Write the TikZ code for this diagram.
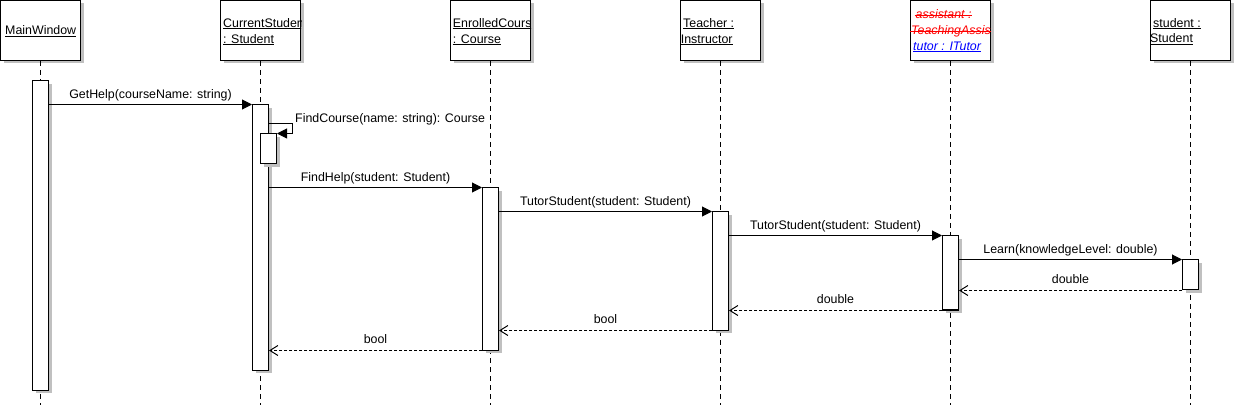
\documentclass[tikz,border=0pt]{standalone}
\usepackage{fontspec}
\setmainfont{Liberation Sans}
\usetikzlibrary{arrows.meta,shadows}
\definecolor{shd}{RGB}{192,192,192}
\tikzset{
  shadowed/.style={drop shadow={shadow xshift=3pt, shadow yshift=-3pt, fill=shd, opacity=1}},
  hdr/.style={draw, line width=1pt, fill=white, minimum width=80pt, minimum height=60pt, inner sep=0pt, shadowed},
  actbar/.style={draw, line width=1pt, fill=white, minimum width=16pt, inner sep=0pt, anchor=north, shadowed},
  life/.style={line width=1pt, dash pattern=on 5pt off 4pt},
  msg/.style={line width=1pt, -{Triangle[length=10pt,width=10pt]}},
  ret/.style={line width=1pt, dash pattern=on 3pt off 2pt, -{Straight Barb[length=8pt,width=10pt,line width=1pt]}},
  lbl/.style={inner sep=0pt, anchor=base},
  ttl/.style={inner sep=0pt, anchor=base west},
  uline/.style={line width=0.9pt},
}
\newcommand{\underl}[2][black]{\draw[uline,#1] ([yshift=-1.1pt]#2.base west) -- ([yshift=-1.1pt]#2.base east);}
\newcommand{\strikel}[2][red]{\draw[uline,#1] ([yshift=3.3pt,xshift=-1pt]#2.base west) -- ([yshift=3.3pt]#2.base east);}
\begin{document}
\begin{tikzpicture}[x=1pt, y=-1pt, font=\fontsize{12.4}{16}\selectfont]
\useasboundingbox (0,0) rectangle (1235,414);

% header boxes
\node[hdr] (mw) at (40.5,30.5) {};
\node[hdr] (cs) at (260.5,30.5) {};
\node[hdr] (ec) at (490.5,30.5) {};
\node[hdr] (te) at (720.5,30.5) {};
\node[hdr] (as) at (950.5,30.5) {};
\node[hdr] (st) at (1190.5,30.5) {};

% header texts (clipped to boxes)
\begin{scope}
\clip (mw.north west) rectangle (mw.south east);
\node[ttl] (mwt) at (5,35) {MainWindow};
\underl{mwt}
\end{scope}
\begin{scope}
\clip (cs.north west) rectangle (cs.south east);
\node[ttl] (cst1) at (223,27.3) {CurrentStuden};
\node[ttl] (cst2) at (223,43.3) {: Student};
\underl{cst1}\underl{cst2}
\end{scope}
\begin{scope}
\clip (ec.north west) rectangle (ec.south east);
\node[ttl] (ect1) at (452.7,27.3) {EnrolledCours};
\node[ttl] (ect2) at (452.7,43.3) {: Course};
\underl{ect1}\underl{ect2}
\end{scope}
\begin{scope}
\clip (te.north west) rectangle (te.south east);
\node[ttl] (tet1) at (683,27.3) {Teacher :};
\node[ttl] (tet2) at (680.7,43.3) {Instructor};
\underl{tet1}\underl{tet2}
\end{scope}
\begin{scope}
\clip (as.north west) rectangle (as.south east);
\node[ttl, text=red] (ast1) at (915.5,18.5) {\itshape assistant :};
\node[ttl, text=red] (ast2) at (911,34.5) {\itshape TeachingAssis};
\node[ttl, text=blue] (ast3) at (913,50.5) {\itshape tutor : ITutor};
\strikel{ast1}\strikel{ast2}\underl[blue]{ast3}
\end{scope}
\begin{scope}
\clip (st.north west) rectangle (st.south east);
\node[ttl] (stt1) at (1153,27.3) {student :};
\node[ttl] (stt2) at (1150,42.9) {Student};
\underl{stt1}\underl{stt2}
\end{scope}

% lifelines
\draw[life] (mw.south) -- (mw.south |- 0,405);
\draw[life] (cs.south) -- (cs.south |- 0,405);
\draw[life] (ec.south) -- (ec.south |- 0,405);
\draw[life] (te.south) -- (te.south |- 0,405);
\draw[life] (as.south) -- (as.south |- 0,405);
\draw[life] (st.south) -- (st.south |- 0,405);

% activation bars
\node[actbar, minimum height=309pt] (b1) at (40.5,80.5) {};
\node[actbar, minimum height=265pt] (b2) at (260.5,104.5) {};
\node[actbar, minimum height=30pt] (b2n) at (268.5,133.5) {};
\node[actbar, minimum height=162pt] (b3) at (490.5,187.5) {};
\node[actbar, minimum height=118pt] (b4) at (720.5,211.5) {};
\node[actbar, minimum height=74pt] (b5) at (950.5,235.5) {};
\node[actbar, minimum height=30pt] (b6) at (1190.5,259.5) {};

% messages
\draw[msg] (b1.east |- b2.north) -- (b2.north west);
\node[lbl] (m1) at (150.5,98.5) {GetHelp(courseName: string)};

\coordinate (selfc) at (292.5,133.5);
\draw[msg] (b2.east |- 0,123.5) -| (selfc) -- (b2n.north east);
\node[ttl] (m2) at (295,122.3) {FindCourse(name: string): Course};

\draw[msg] (b2.east |- b3.north) -- (b3.north west);
\node[lbl] (m3) at (375.5,181.5) {FindHelp(student: Student)};

\draw[msg] (b3.east |- b4.north) -- (b4.north west);
\node[lbl] (m4) at (605.5,205.5) {TutorStudent(student: Student)};

\draw[msg] (b4.east |- b5.north) -- (b5.north west);
\node[lbl] (m5) at (835.5,229.5) {TutorStudent(student: Student)};

\draw[msg] (b5.east |- b6.north) -- (b6.north west);
\node[lbl] (m6) at (1070.5,253.5) {Learn(knowledgeLevel: double)};

% returns
\draw[ret] (b6.south west) -- (b5.east |- b6.south);
\node[lbl] (r1) at (1070.5,283.5) {double};

\draw[ret] (b5.south west) -- (b4.east |- b5.south);
\node[lbl] (r2) at (835.5,303.5) {double};

\draw[ret] (b4.south west) -- (b3.east |- b4.south);
\node[lbl] (r3) at (605.5,323.5) {bool};

\draw[ret] (b3.south west) -- (b2.east |- b3.south);
\node[lbl] (r4) at (375.5,343.5) {bool};
\end{tikzpicture}
\end{document}
